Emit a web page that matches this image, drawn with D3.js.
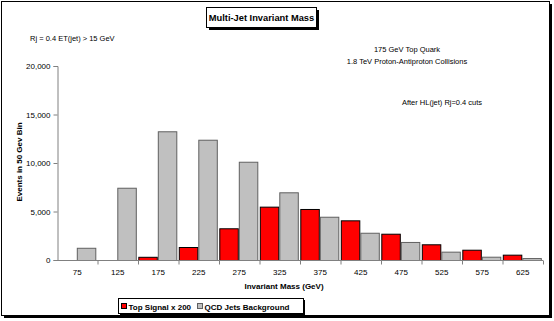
<!DOCTYPE html>
<html>
<head>
<meta charset="utf-8">
<script src="https://cdn.jsdelivr.net/npm/d3@7/dist/d3.min.js"></script>
<style>
  body { margin: 0; background: #fff; }
  text { font-family: "Liberation Sans", Arial, sans-serif; fill: #000; }
</style>
</head>
<body>
<div id="chart"></div>
<script>
"use strict";

// bin centres (GeV)
const categories = ["75", "125", "175", "225", "275", "325", "375", "425", "475", "525", "575", "625"];
// Top Signal x 200
const topSignal = [0, 0, 330, 1340, 3270, 5500, 5260, 4090, 2710, 1620, 1060, 550];
// QCD Jets Background
const qcdBackground = [1260, 7450, 13270, 12400, 10130, 6980, 4460, 2810, 1860, 860, 340, 200];
const yTicks = [0, 5000, 10000, 15000, 20000];

const seriesNames = ["Top Signal x 200", "QCD Jets Background"];
const seriesColors = ["#ff0000", "#c0c0c0"];
const seriesStroke = ["#000000", "#606060"];

const W = 554, H = 321;
const svg = d3.select("#chart").append("svg")
  .attr("width", W).attr("height", H);

// chart area frame with shadow
svg.append("rect").attr("x", 4).attr("y", 4).attr("width", 548).attr("height", 314).style("fill", "#000");
svg.append("rect").attr("x", 1.5).attr("y", 1.5).attr("width", 548).attr("height", 314)
  .style("fill", "#fff").style("stroke", "#000").style("stroke-width", 1);

const x = d3.scaleBand().domain(categories).range([57, 543]).padding(0);
const xs = d3.scaleBand().domain([0, 1]).range([0.3, x.bandwidth() - 1.2]).padding(0);
const y = d3.scaleLinear().domain([0, 20000]).range([260, 66]);

// y axis
const yAxis = svg.append("g").attr("transform", "translate(57.5,0)")
  .call(d3.axisLeft(y).tickValues(yTicks).tickSize(4).tickFormat(d3.format(",")));
yAxis.select(".domain").style("stroke", "#808080");
yAxis.selectAll(".tick line").style("stroke", "#808080");
yAxis.selectAll("text").style("font-size", "8px").attr("x", -7);

// bars
const groups = svg.append("g").selectAll("g")
  .data(categories)
  .join("g")
  .attr("transform", d => "translate(" + x(d) + ",0)");

groups.selectAll("rect")
  .data((d, i) => [topSignal[i], qcdBackground[i]])
  .join("rect")
  .attr("x", (d, j) => xs(j) + 0.5)
  .attr("y", d => y(d) + 0.5)
  .attr("width", xs.bandwidth() - 1)
  .attr("height", d => 260 - y(d))
  .style("display", d => d > 0 ? null : "none")
  .style("fill", (d, j) => seriesColors[j])
  .style("stroke", (d, j) => seriesStroke[j])
  .style("stroke-width", 1);

// x axis with ticks at bin edges
const xAxisG = svg.append("g").attr("transform", "translate(0,260.5)");
xAxisG.append("line").attr("x1", 57).attr("x2", 543)
  .style("stroke", "#808080");
xAxisG.selectAll("line.edge")
  .data(categories)
  .join("line")
  .attr("class", "edge")
  .attr("x1", d => x(d) + x.bandwidth() + 0.5)
  .attr("x2", d => x(d) + x.bandwidth() + 0.5)
  .attr("y1", 0).attr("y2", 4)
  .style("stroke", "#808080");
xAxisG.selectAll("text")
  .data(categories)
  .join("text")
  .attr("x", d => x(d) + x.bandwidth() / 2)
  .attr("y", 14)
  .attr("text-anchor", "middle")
  .style("font-size", "8px")
  .text(d => d);

// axis titles
svg.append("text")
  .attr("x", 284).attr("y", 289)
  .attr("text-anchor", "middle")
  .style("font-size", "8px").style("font-weight", "bold")
  .text("Invariant Mass  (GeV)");

svg.append("text")
  .attr("transform", "translate(22,162) rotate(-90)")
  .attr("text-anchor", "middle")
  .style("font-size", "8px").style("font-weight", "bold")
  .text("Events in 50 Gev Bin");

// title box
svg.append("rect").attr("x", 209).attr("y", 10).attr("width", 110).attr("height", 20).style("fill", "#000");
svg.append("rect").attr("x", 206.5).attr("y", 7.5).attr("width", 110).attr("height", 20)
  .style("fill", "#fff").style("stroke", "#000");
svg.append("text")
  .attr("x", 261.5).attr("y", 21)
  .attr("text-anchor", "middle")
  .style("font-size", "9.3px").style("font-weight", "bold")
  .text("Multi-Jet Invariant Mass");

// annotations
svg.append("text").attr("x", 30).attr("y", 41).style("font-size", "7.5px")
  .text("Rj = 0.4 ET(jet) > 15 GeV");
svg.append("text").attr("x", 407).attr("y", 52).attr("text-anchor", "middle").style("font-size", "7.5px")
  .text("175 GeV Top Quark");
svg.append("text").attr("x", 407).attr("y", 64).attr("text-anchor", "middle").style("font-size", "7.5px")
  .text("1.8 TeV Proton-Antiproton Collisions");
svg.append("text").attr("x", 442).attr("y", 105).attr("text-anchor", "middle").style("font-size", "7.5px")
  .text("After HL(jet) Rj=0.4 cuts");

// legend
const lg = svg.append("g");
lg.append("rect").attr("x", 120).attr("y", 300).attr("width", 185).attr("height", 15).style("fill", "#000");
lg.append("rect").attr("x", 118.5).attr("y", 298.5).attr("width", 185).attr("height", 15)
  .style("fill", "#fff").style("stroke", "#000");
const legendX = [121, 197];
seriesNames.forEach((name, i) => {
  lg.append("rect").attr("x", legendX[i] + 0.5).attr("y", 303.5).attr("width", 5).attr("height", 5)
    .style("fill", seriesColors[i]).style("stroke", seriesStroke[i]);
  lg.append("text").attr("x", legendX[i] + 7.5).attr("y", 309.5)
    .style("font-size", "8px").style("font-weight", "bold")
    .text(name);
});
</script>
</body>
</html>
